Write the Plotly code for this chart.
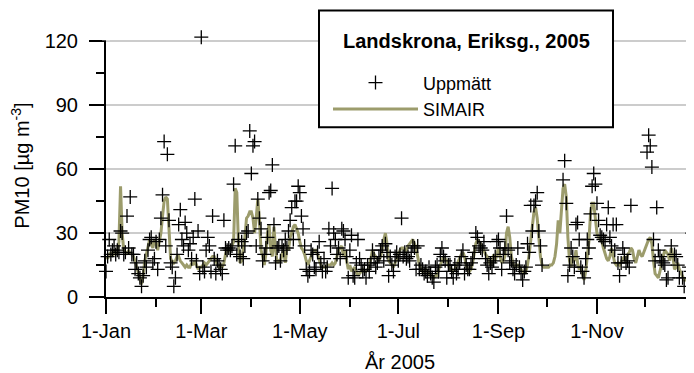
import pandas as pd
import plotly.graph_objects as go

# ---- data: daily values 2005 (Jan 1 .. Dec 31) ----
simair_jan = [19,18,20,21,19,22,20,21,26,52,30,22,21,20,22,20,21,19,17,14,11,8,6,10,17,20,24,27,25,23,27]
simair_feb = [25,22,26,30,38,45,47,46,32,18,17,16,17,19,19,17,16,15,14,15,14,14,16,15,17,15,13,14]
simair_mar = [14,15,16,15,16,17,18,19,19,17,15,14,15,14,16,20,23,22,22,24,26,51,49,25,16,17,22,28,37,38,40]
simair_apr = [40,37,30,37,46,36,22,19,15,20,30,34,22,19,33,22,16,17,17,20,22,16,23,22,28,30,33,34,32,30]
simair_may = [26,23,22,20,17,15,17,19,21,22,22,20,18,15,14,14,14,15,15,15,16,15,16,19,22,23,24,19,22,17,13]
simair_jun = [15,12,13,14,12,10,11,12,13,12,12,13,14,18,22,20,19,18,17,19,22,27,30,25,17,16,15,14,16,18]
simair_jul = [20,22,23,23,22,22,24,25,26,27,25,23,19,15,13,12,12,13,12,11,10,10,9,10,10,13,15,17,19,18,17]
simair_aug = [15,13,13,12,13,15,17,19,20,21,19,15,13,12,13,16,21,25,27,26,25,23,22,20,19,17,15,16,20,17,20]
simair_sep = [23,19,16,17,19,30,33,28,19,16,14,15,15,14,13,12,11,12,15,20,26,33,40,42,37,28,19,15,14,14]
simair_oct = [14,14,15,15,16,19,25,36,30,41,51,53,47,28,17,14,19,17,22,16,13,14,11,8,12,19,26,39,44,44,38]
simair_nov = [30,28,27,26,23,20,18,17,19,23,20,16,15,16,15,17,18,19,16,20,21,23,22,18,16,19,22,20,19,21]
simair_dec = [23,25,27,28,25,17,11,10,9,12,16,19,22,21,20,17,23,19,13,14,16,13,11,10,8,8,9,10,11,13,15]

N = None
meas_jan = [12,19,27,20,22,24,20,22,21,31,30,20,21,38,23,47,20,20,13,16,11,9,5,10,17,14,22,27,28,16,18]
meas_feb = [26,13,27,37,48,73,24,67,36,16,14,5,9,20,34,41,27,24,35,30,22,25,18,28,46,17,31,11]
meas_mar = [122,14,12,22,28,24,12,38,18,11,17,15,13,11,36,23,22,23,22,24,53,71,20,27,19,26,18,24,30,31,78]
meas_apr = [58,71,73,24,46,37,32,17,20,23,28,49,50,62,34,16,23,24,17,24,22,27,23,31,36,42,27,45,45,52]
meas_may = [49,38,32,24,13,10,12,22,20,14,13,21,26,16,12,18,12,14,32,24,51,30,27,20,23,18,32,31,27,19,9]
meas_jun = [22,29,10,9,16,27,18,15,12,13,9,15,12,16,22,18,14,16,19,22,24,17,25,21,10,19,15,12,19,21]
meas_jul = [17,20,37,19,21,18,19,17,21,24,23,13,24,13,15,13,11,12,10,14,11,9,7,14,15,12,20,23,19,17,9]
meas_aug = [15,15,12,9,15,11,13,16,19,22,11,15,13,13,16,18,21,30,28,24,23,22,26,18,15,11,16,14,17,19,26]
meas_sep = [27,23,13,20,23,38,22,16,17,13,11,15,23,14,11,8,12,14,25,21,43,31,43,45,49,31,24,15,N,N]
meas_oct = [N,N,N,N,N,N,N,N,N,N,55,64,44,10,15,23,19,14,34,35,27,14,12,9,18,27,23,39,52,58,53]
meas_nov = [44,36,29,28,27,26,34,42,28,24,34,22,34,16,10,16,23,20,16,17,14,43,N,N,N,N,N,N,N,N]
meas_dec = [N,68,76,71,61,27,17,42,22,19,17,16,15,8,9,N,24,N,20,19,15,9,N,9,5,N,N,14,12,30,N]

simair = (simair_jan + simair_feb + simair_mar + simair_apr + simair_may + simair_jun +
          simair_jul + simair_aug + simair_sep + simair_oct + simair_nov + simair_dec)
measured = (meas_jan + meas_feb + meas_mar + meas_apr + meas_may + meas_jun +
            meas_jul + meas_aug + meas_sep + meas_oct + meas_nov + meas_dec)
dates = pd.date_range("2005-01-01", periods=365, freq="D")

FONT = "Arial, Liberation Sans, sans-serif"
OLIVE = "#9c9c6c"
YMAX = 123.5          # a little headroom so the 122 point is shown
PX_PER_UNIT = 256 / 120.0
PLOT_H = YMAX * PX_PER_UNIT

fig = go.Figure()
fig.add_trace(go.Scatter(
    x=dates, y=simair, mode="lines", name="SIMAIR",
    line=dict(color=OLIVE, width=3), legendgroup="b", legendrank=2))
fig.add_trace(go.Scatter(
    x=dates, y=measured, mode="markers", name="Uppmätt",
    marker=dict(symbol="cross-thin", size=10, color="black",
                line=dict(color="black", width=1.3)),
    cliponaxis=False, legendgroup="a", legendrank=1))

# page offset of 8px (body margin); plot area on page: x 106..694, y (297-PLOT_H)..297
def px_x(p):
    return (p - 106) / 588.0

def px_y(p):
    return (297 - p) / PLOT_H

fig.update_layout(
    width=686, height=365,
    margin=dict(l=98, r=0, t=365 - 76 - PLOT_H, b=76, autoexpand=False),
    paper_bgcolor="white", plot_bgcolor="white",
    font=dict(family=FONT, color="black", size=20),
    showlegend=True,
    legend=dict(x=px_x(328), y=px_y(64), xanchor="left", yanchor="top",
                bgcolor="rgba(0,0,0,0)", itemwidth=85, tracegroupgap=0,
                traceorder="grouped",
                font=dict(size=18, family=FONT)),
    xaxis=dict(
        type="date", range=["2005-01-01", "2005-12-31 02:00"], automargin=False,
        tick0="2005-01-01", dtick="M2", tickformat="%-d-%b",
        ticks="outside", ticklen=15, tickwidth=2, tickcolor="black",
        showline=True, linewidth=2, linecolor="black",
        showgrid=False, zeroline=False,
        minor=dict(dtick="M1", ticks="outside", ticklen=8, tickwidth=2,
                   tickcolor="black", showgrid=False),
        tickfont=dict(size=20),
        title=dict(text="År 2005", font=dict(size=20), standoff=16),
    ),
    yaxis=dict(
        range=[0, YMAX], tick0=0, dtick=30, automargin=False,
        ticks="outside", ticklen=15, tickwidth=2, tickcolor="black",
        showline=True, linewidth=2, linecolor="black",
        showgrid=True, gridcolor="#cccccc", gridwidth=2, zeroline=False,
        minor=dict(dtick=15, ticks="outside", ticklen=8, tickwidth=2,
                   tickcolor="black", showgrid=False),
        tickfont=dict(size=20), ticklabelstandoff=7,
        title=dict(text="PM10 [µg m<sup>-3</sup>]", font=dict(size=20), standoff=14),
    ),
    shapes=[
        dict(type="line", xref="paper", yref="y", x0=px_x(692.5), x1=px_x(692.5),
             y0=0, y1=120, line=dict(color="#cccccc", width=2), layer="below"),
        # hide the bit of the y axis line above the 120 tick
        dict(type="rect", xref="paper", yref="y", x0=px_x(102), x1=px_x(110),
             y0=120.55, y1=YMAX + 1, fillcolor="white", line=dict(width=0),
             layer="above"),
        dict(type="rect", xref="paper", yref="paper",
             x0=px_x(319), x1=px_x(613), y0=px_y(127), y1=px_y(10),
             fillcolor="white", line=dict(color="black", width=2), layer="above"),
    ],
    annotations=[
        dict(text="<b>Landskrona, Eriksg., 2005</b>", xref="paper", yref="paper",
             x=px_x(466), y=px_y(41), xanchor="center", yanchor="middle",
             showarrow=False, font=dict(size=20, family=FONT)),
    ],
)

fig.write_html("out.html")
